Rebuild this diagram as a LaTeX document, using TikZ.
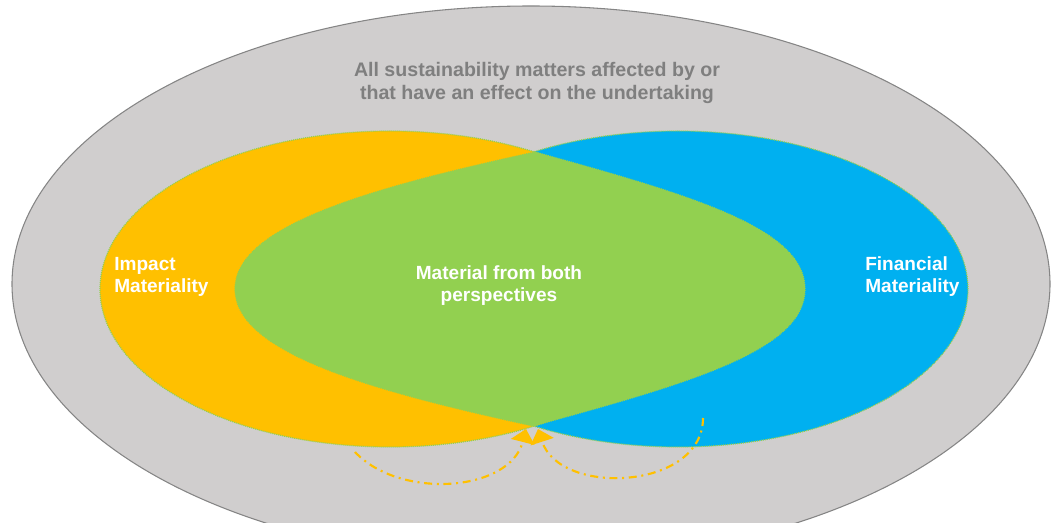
\documentclass[tikz,border=0pt]{standalone}
\usepackage{fontspec}
\setmainfont{Liberation Sans}
\usetikzlibrary{arrows.meta}
\definecolor{bggray}{HTML}{D0CECE}
\definecolor{edgegray}{HTML}{858585}
\definecolor{impyellow}{HTML}{FFC000}
\definecolor{finblue}{HTML}{00B0F0}
\definecolor{matgreen}{HTML}{92D050}
\definecolor{txtgray}{HTML}{7F7F7F}
\begin{document}
\begin{tikzpicture}[x=0.75pt,y=-0.75pt,
  rim/.style={draw=matgreen, line width=0.9pt, dash pattern=on 0.75pt off 0.75pt},
  wlabel/.style={font=\bfseries\fontsize{14.3}{16.6}\selectfont, text=white, inner sep=0pt},
  looparrow/.style={draw=impyellow, line width=1.6pt,
     dash pattern=on 6pt off 3.5pt on 1.5pt off 3.5pt,
     -{Triangle[width=18pt,length=10pt]}}]
\useasboundingbox (0,0) rectangle (1051,523);
\begin{scope}
\clip (0,0) rectangle (1051,523);
\path[fill=bggray, draw=edgegray, line width=0.8pt] (531,284) ellipse [x radius=389.25pt, y radius=208.5pt];
\path[fill=finblue, rim] (678,289) ellipse [x radius=217.5pt, y radius=118.5pt];
\path[fill=impyellow, rim] (390,289) ellipse [x radius=217.5pt, y radius=118.5pt];
\path[fill=matgreen, rim] (535,152) .. controls (375,187) and (235,225) .. (235,289)
   .. controls (235,353) and (373,391) .. (533,426)
   .. controls (690,383) and (805,350) .. (805,289)
   .. controls (805,228) and (690,195) .. (535,152) -- cycle;
\end{scope}

\node[font=\bfseries\fontsize{14.7}{17.25}\selectfont, text=txtgray, align=center, inner sep=0pt, anchor=base]
  (scope) at (537,100) {All sustainability matters affected by or\\that have an effect on the undertaking};
\node[wlabel, align=left, anchor=base west] (impact) at (114,293) {Impact\\Materiality};
\node[wlabel, align=left, anchor=base west] (financial) at (865,293) {Financial\\Materiality};
\node[wlabel, align=center, anchor=base] (both) at (499,302) {Material from both\\perspectives};

\coordinate (ls) at (355,452);
\coordinate (le) at (526,429);
\coordinate (rs) at (703,418);
\coordinate (re) at (538,429);
\draw[looparrow] (ls) .. controls (400,500) and (510,492) .. (le);
\draw[looparrow] (rs) .. controls (703,490) and (560,497) .. (re);
\end{tikzpicture}
\end{document}
